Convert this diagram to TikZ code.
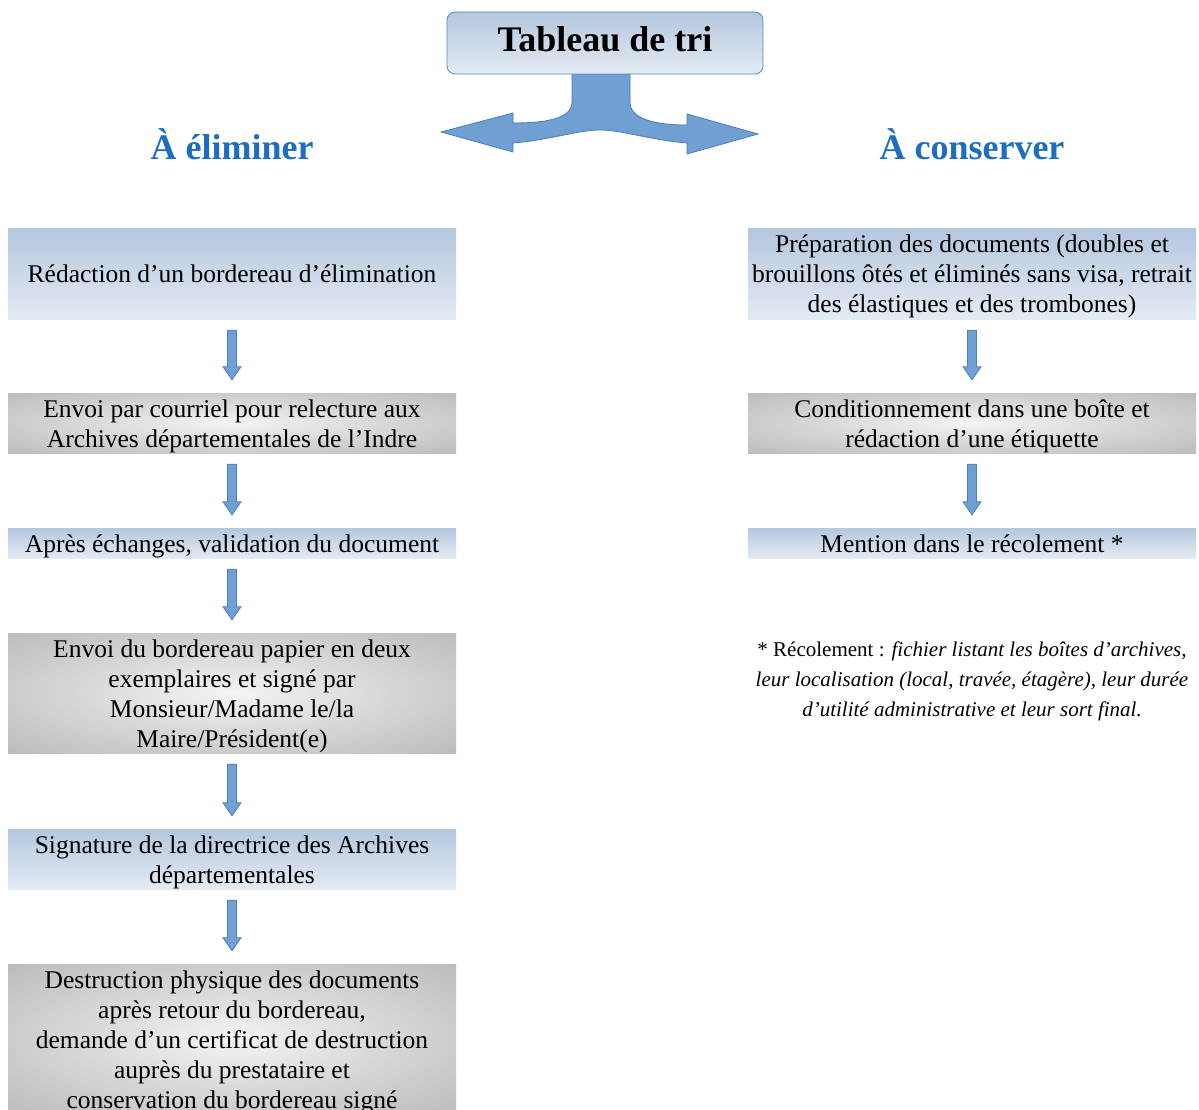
\documentclass[tikz,border=0pt]{standalone}
\usepackage{fontspec}
\setmainfont{Liberation Serif}
\usetikzlibrary{calc}

\definecolor{boxtop}{HTML}{B4C7DE}
\definecolor{boxbot}{HTML}{E3EAF3}
\definecolor{gcenter}{HTML}{F4F4F4}
\definecolor{gmid}{HTML}{D6D6D6}
\definecolor{gedge}{HTML}{A6A6A6}
\definecolor{headblue}{HTML}{1D6EC0}
\definecolor{arrfill}{HTML}{6F9FD3}
\definecolor{arrdraw}{HTML}{4C7EBC}
\definecolor{topborder}{HTML}{5A85C0}

\pgfdeclareradialshading{greyshade}{\pgfpoint{0bp}{0bp}}{color(0bp)=(gcenter); color(18bp)=(gmid); color(50bp)=(gedge); color(80bp)=(gedge)}

\newcommand{\blockarr}[2]{%
  \path[smallarrow] ($(#1.south)+(-4.5,11)$) -- ($(#2.north)+(-4.5,-26)$) -- ($(#2.north)+(-9,-26)$)
    -- ($(#2.north)+(0,-13)$) -- ($(#2.north)+(9,-26)$) -- ($(#2.north)+(4.5,-26)$)
    -- ($(#1.south)+(4.5,11)$) -- cycle;}
% text lines set with struts, lowered slightly as in the reference
\newcommand{\boxlines}[1]{\raisebox{-3pt}[\height][\depth]{\begin{tabular}{@{}c@{}}#1\end{tabular}}}

\tikzset{
  bodyfont/.style={font=\fontsize{25.5}{30}\selectfont},
  bluebox/.style={rectangle, minimum width=448pt, inner sep=0pt, top color=boxtop, bottom color=boxbot, draw=none, bodyfont},
  greybox/.style={rectangle, minimum width=448pt, inner sep=0pt, shading=greyshade, draw=none, bodyfont},
  heading/.style={anchor=base, text=headblue, font=\fontsize{36}{40}\selectfont\bfseries},
  smallarrow/.style={fill=arrfill, draw=arrdraw, line width=0.8pt, line join=miter},
  bigarrow/.style={fill=arrfill, draw=arrdraw, line width=0.8pt},
  topbox/.style={rectangle, rounded corners=8pt, minimum width=316pt, minimum height=62pt, inner sep=0pt, top color=boxtop, bottom color=boxbot, draw=topborder, line width=0.8pt, font=\fontsize{36}{40}\selectfont\bfseries}
}

\begin{document}
\begin{tikzpicture}[x=1pt,y=-1pt]
\useasboundingbox[fill=white] (0,0) rectangle (1199,1110);

% split arrow from the title box
\path[bigarrow] (572,70) -- (572,102)
  .. controls (572,119) and (545,123) .. (513,123)
  -- (513,113) -- (441,132) -- (513,152) -- (513,143)
  .. controls (550,140) and (578,130) .. (600,130)
  .. controls (622,130) and (650,140) .. (687,143)
  -- (687,154) -- (758,134) -- (687,114) -- (687,125)
  .. controls (655,125) and (630,119) .. (630,102)
  -- (630,70) -- cycle;

\node[topbox] (top) at (605,43) {\raisebox{7pt}{Tableau de tri}};

\node[heading] (elim) at (232,160) {À éliminer};
\node[heading] (cons) at (972,160) {À conserver};

% left column
\node[bluebox, minimum height=91pt] (l1) at (232,273.5) {\boxlines{Rédaction d’un bordereau d’élimination}};
\node[greybox, minimum height=60pt] (l2) at (232,423) {\boxlines{Envoi par courriel pour relecture aux\\Archives départementales de l’Indre}};
\node[bluebox, minimum height=28pt] (l3) at (232,543) {\boxlines{Après échanges, validation du document}};
\node[greybox, minimum height=120pt] (l4) at (232,693) {\boxlines{Envoi du bordereau papier en deux\\exemplaires et signé par\\Monsieur/Madame le/la\\Maire/Président(e)}};
\node[bluebox, minimum height=60pt] (l5) at (232,859) {\boxlines{Signature de la directrice des Archives\\départementales}};
\node[greybox, minimum height=150pt] (l6) at (232,1039) {\boxlines{Destruction physique des documents\\après retour du bordereau,\\demande d’un certificat de destruction\\auprès du prestataire et\\conservation du bordereau signé}};

% right column
\node[bluebox, minimum height=91pt] (r1) at (972,273.5) {\boxlines{Préparation des documents (doubles et\\brouillons ôtés et éliminés sans visa, retrait\\des élastiques et des trombones)}};
\node[greybox, minimum height=60pt] (r2) at (972,423) {\boxlines{Conditionnement dans une boîte et\\rédaction d'une étiquette}};
\node[bluebox, minimum height=28pt] (r3) at (972,543) {\boxlines{Mention dans le récolement *}};

\node[align=center, font=\fontsize{21}{30}\selectfont] (note) at (972,681)
  {* Récolement : \textit{fichier listant les boîtes d’archives,}\\
   \textit{leur localisation (local, travée, étagère), leur durée}\\
   \textit{d’utilité administrative et leur sort final.}};

\blockarr{l1}{l2}
\blockarr{l2}{l3}
\blockarr{l3}{l4}
\blockarr{l4}{l5}
\blockarr{l5}{l6}
\blockarr{r1}{r2}
\blockarr{r2}{r3}
\end{tikzpicture}
\end{document}
